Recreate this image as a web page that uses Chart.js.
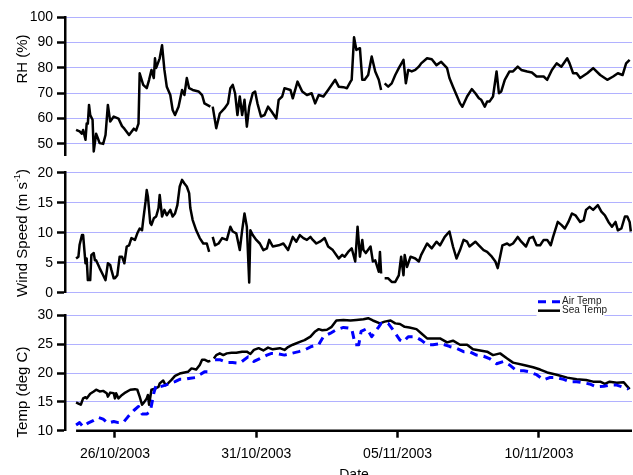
<!DOCTYPE html>
<html>
<head>
<meta charset="utf-8">
<script src="https://cdn.jsdelivr.net/npm/chart.js@4.4.0/dist/chart.umd.min.js"></script>
<style>
    html, body { margin: 0; padding: 0; background: #fff; overflow: hidden; width: 633px; height: 475px; }
    canvas { position: absolute; left: 0; }
</style>
</head>
<body>
<canvas id="rh-chart" width="633" height="175" style="top:0px"></canvas>
<canvas id="wind-chart" width="633" height="165" style="top:150px"></canvas>
<canvas id="temp-chart" width="633" height="195" style="top:290px"></canvas>
<script>
// time is in hours since 26/10/2003 00:00
const xMin = -42.4;
const xMax = 439;
const xTickHours = [0, 120, 240, 360];
const xTickLabels = ['26/10/2003', '31/10/2003', '05/11/2003', '10/11/2003'];

const rhTicks = [50, 60, 70, 80, 90, 100];
const windTicks = [0, 5, 10, 15, 20];
const tempTicks = [10, 15, 20, 25, 30];

const rhHours = [-33, -30, -28, -27, -25, -24, -23, -22, -21, -19,
    -18, -16, -14, -13, -10, -8, -6, -4, -1, 3,
    6, 8, 12, 16, 18, 20, 21, 24, 27, 29,
    31, 33, 34, 35, 38, 40, 42, 44, 47, 49,
    51, 54, 57, 59, 61, 63, 66, 71, 74, 76,
    81, 82, 83, 86, 89, 93, 96, 98, 100, 102,
    104, 106, 108, 110, 112, 114, 117, 119, 121, 124,
    127, 130, 133, 137, 139, 142, 144, 149, 151, 155,
    159, 163, 167, 170, 173, 177, 181, 187, 190, 194,
    197, 200, 201, 203, 205, 208, 210, 212, 215, 218,
    221, 224, 226, 228, 229, 232, 235, 238, 241, 245,
    247, 249, 252, 255, 258, 260, 265, 269, 273, 277,
    282, 284, 287, 290, 293, 295, 299, 303, 306, 309,
    311, 314, 316, 318, 321, 324, 326, 328, 331, 335,
    338, 342, 345, 350, 354, 358, 364, 367, 371, 375,
    379, 384, 386, 389, 392, 395, 401, 406, 412, 418,
    423, 427, 431, 434, 437];
const rhValues = [55.5, 54.9, 54, 55.5, 51.6, 58, 58, 65.4, 61.4, 59.5,
    47, 54, 51.6, 50.3, 50, 53.5, 65.4, 58.8, 60.8, 60,
    57, 56, 53.5, 56, 55.3, 58, 77.9, 73.3, 72, 75.3,
    79.2, 76, 83.8, 80, 83.8, 89, 79.2, 72.6, 69.3, 63.4,
    61.4, 64.7, 71.3, 69.3, 76, 72, 71.3, 70.7, 69.3, 66,
    64.7, null, 64.7, 56.2, 62, 64, 66, 72, 73.3, 70,
    61.4, 68.7, 61.4, 67.4, 56.8, 64.7, 70, 70.7, 66, 60.8,
    61.4, 64.7, 62.8, 60, 67.4, 68.7, 72, 71.3, 68, 74.6,
    70.7, 69.3, 70, 66, 69.3, 68.7, 71.3, 75.3, 72.6, 72.4,
    72, 74.6, 75.3, 92.1, 87.1, 87.8, 75.3, 75.3, 77.2, 84.5,
    78.6, 75.3, 71.3, null, 73.9, 72.6, 73.9, 77.2, 79.9, 83.2,
    73.9, 79.2, 78.6, 79.2, 80.5, 81.8, 83.8, 83.4, 81.1, 82.4,
    79.9, 76, 72.6, 69.3, 66, 64.7, 68.7, 71.6, 70, 68,
    67.4, 64.7, 66.7, 66.7, 68.7, 78.6, 70, 70.7, 75.3, 78.6,
    78.6, 80.5, 79.2, 78.6, 78.2, 76.6, 76.6, 75.3, 79.2, 81.8,
    80.5, 83.8, 81.8, 77.9, 77.9, 76, 77.9, 79.9, 77.2, 75.3,
    76.6, 77.9, 77.2, 81.8, 83.2];

const windHours = [-33, -31, -30, -28, -27, -25, -24, -23, -21, -20,
    -18, -17, -16, -13, -10, -8, -6, -4, -3, -1,
    0, 2, 4, 6, 8, 10, 12, 14, 17, 19,
    21, 23, 24, 26, 27, 28, 30, 31, 33, 35,
    37, 38, 40, 42, 44, 47, 49, 51, 53, 55,
    57, 59, 61, 63, 64, 66, 69, 72, 75, 78,
    80, 82, 83, 85, 88, 91, 95, 98, 100, 103,
    106, 108, 110, 112, 114, 115, 117, 120, 123, 126,
    129, 131, 134, 139, 143, 147, 151, 154, 157, 160,
    163, 166, 168, 171, 174, 176, 178, 181, 185, 190,
    193, 195, 198, 201, 204, 206, 208, 210, 211, 213,
    217, 219, 221, 224, 225, 226, 228, 229, 232, 235,
    238, 241, 243, 245, 246, 248, 251, 255, 258, 260,
    265, 269, 273, 276, 280, 284, 287, 290, 293, 296,
    299, 301, 306, 309, 313, 316, 320, 323, 325, 327,
    329, 333, 335, 338, 342, 345, 349, 352, 355, 358,
    361, 364, 367, 370, 372, 376, 379, 382, 385, 388,
    391, 395, 398, 400, 403, 406, 410, 413, 416, 419,
    422, 425, 427, 430, 433, 435, 437, 438];
const windValues = [5.7, 6, 8, 9.6, 9.6, 4.9, 5.7, 2.1, 2.1, 6.3,
    6.6, 5.4, 5.4, 4.1, 2.9, 2.1, 4.9, 4.6, 3.8, 2.4,
    2.4, 2.9, 6, 6, 4.9, 7.7, 7.9, 9.1, 8.8, 9.9,
    10.7, 10.4, 12.1, 15.2, 17.1, 16, 11.6, 11.3, 12.4, 12.7,
    14.1, 16.3, 12.7, 13.8, 12.9, 13.8, 12.7, 13.2, 14.6, 17.7,
    18.8, 18.2, 17.7, 16.6, 14.1, 12.1, 10.4, 9.1, 8.2, 8.2,
    6.8, null, 9.3, 7.9, 8.2, 9.1, 8.8, 11, 10.2, 9.9,
    7.1, 10.4, 13.2, 11, 1.7, 10.4, 9.6, 8.8, 8.2, 7.1,
    7.4, 8.8, 7.7, 7.9, 8.2, 7.1, 9.3, 8.5, 9.6, 9.1,
    8.8, 9.3, 8.8, 8.2, 8.5, 8.8, 9.1, 7.7, 7.1, 5.7,
    6.3, 6, 6.8, 7.4, 5.2, 11, 6, 8.8, 7.1, 6.6,
    7.7, 5.2, 5.4, 3.5, 6.8, 3.2, null, 2.4, 2.4, 1.8,
    1.8, 2.9, 6, 2.9, 6.3, 4.3, 6, 5.7, 5.2, 6.3,
    8.2, 7.4, 8.5, 7.9, 9.3, 10.2, 7.7, 5.7, 7.1, 8.8,
    8.5, 7.7, 8.5, 7.9, 7.1, 6.8, 6, 5.2, 4.1, 6,
    7.9, 8.2, 7.9, 8.2, 9.3, 8.5, 7.7, 9.1, 9.3, 7.9,
    7.9, 8.8, 8.8, 7.9, 9.3, 11.8, 11.3, 10.7, 11.8, 13.2,
    12.9, 11.8, 12.1, 13.8, 14.3, 13.8, 14.6, 13.5, 12.9, 11.8,
    11, 11.8, 10.4, 10.7, 12.7, 12.7, 11.8, 10.2];

const seaHours = [-33, -31, -29, -27, -25, -24, -21, -18, -16, -13,
    -10, -7, -6, -4, -1, 0, 1, 3, 6, 8,
    13, 17, 19, 21, 23, 25, 27, 28, 29, 31,
    34, 37, 38, 41, 43, 45, 48, 51, 55, 59,
    62, 65, 69, 72, 74, 76, 79, 81, 82, 84,
    86, 89, 92, 95, 99, 103, 108, 112, 115, 118,
    122, 126, 130, 134, 140, 144, 147, 151, 157, 161,
    166, 170, 173, 176, 180, 184, 188, 194, 200, 205,
    211, 215, 219, 225, 229, 234, 238, 242, 246, 250,
    256, 260, 265, 270, 276, 282, 287, 293, 299, 304,
    310, 316, 321, 327, 333, 338, 347, 355, 361, 367,
    375, 384, 392, 400, 406, 412, 416, 420, 426, 432,
    434, 437];
const seaTemp = [14.9, 14.7, 14.5, 15.6, 15.8, 15.6, 16.4, 16.8, 17.1, 16.8,
    16.9, 16.5, 15.9, 16.6, 16.5, 15.6, 16.5, 15.6, 16.2, 16.5,
    17.1, 17.2, 17.1, 15.9, 14.5, 15, 15.6, 16.2, 14.5, 17.1,
    17.3, 17.6, 18.2, 18.7, 17.9, 18.2, 18.8, 19.5, 19.9, 20.1,
    20.2, 20.8, 20.6, 21.4, 22.3, 22.3, 22, 22.1, null, 22.5,
    23.1, 23.4, 23.1, 23.4, 23.5, 23.5, 23.7, 23.7, 23.3, 24,
    24.3, 23.9, 24.4, 24.1, 24.3, 24, 24.5, 24.9, 25.4, 25.7,
    26.3, 27.2, 27.6, 27.4, 27.5, 28, 29.1, 29.2, 29.1, 29.2,
    29.3, 29.5, 29.1, 28.6, 28.9, 29.1, 28.6, 28.5, 28, 27.9,
    27.6, 26.9, 26, 26, 26, 25.3, 25.6, 24.9, 24.9, 24.1,
    23.9, 23.7, 23.1, 23.4, 22.5, 21.8, 21.4, 21, 20.6, 20.1,
    19.7, 19.2, 18.9, 18.8, 18.5, 18.5, 18.1, 18.5, 18.3, 18.4,
    17.9, 17.2];

const airHours = [-33, -30, -27, -23, -18, -14, -10, -6, -1, 3,
    7, 11, 16, 20, 23, 27, 30, 33, 35, 38,
    43, 47, 51, 55, 59, 64, 68, 72, 76, 79,
    82, 85, 89, 95, 100, 106, 113, 118, 123, 129,
    133, 139, 144, 150, 156, 161, 167, 173, 177, 183,
    188, 194, 201, 204, 207, 209, 214, 218, 224, 226,
    232, 236, 242, 245, 249, 255, 260, 265, 270, 277,
    284, 290, 296, 301, 307, 313, 318, 324, 330, 335,
    341, 347, 352, 358, 364, 369, 375, 381, 386, 392,
    398, 403, 409, 415, 420, 426, 432, 436];
const airTemp = [11, 11.4, 10.7, 11.3, 11.8, 12.3, 12, 11.3, 11.6, 11.4,
    11.4, 12.4, 13.5, 14.2, 12.9, 12.9, 13.3, 16.5, 17.9, 17.6,
    17.9, 18.2, 18.5, 18.9, 18.9, 19.1, 19.2, 19.7, 20.2, 20.2,
    null, 22.3, 22.3, 21.8, 21.8, 21.7, 22.8, 22, 22.5, 23.1,
    23.4, 23.3, 23.1, 23.4, 23.7, 24, 24.6, 24.9, 26.3, 26.9,
    27.5, 27.9, 27.7, 24.9, 24.9, 27.2, 27.7, 26.3, 28, 28.6,
    28.6, 27.5, 25.7, 25.4, 26.3, 26.3, 25.7, 24.9, 24.9, 25.1,
    24.6, 24.3, 23.7, 23.7, 23.1, 22.9, 22.5, 21.6, 22, 21.4,
    20.4, 20.4, 20.2, 19.7, 18.8, 19.2, 19.2, 18.9, 18.5, 18.5,
    18.3, 18.1, 17.6, 17.7, 17.9, 17.9, 17.5, 17.2];

const fontFamily = "'Liberation Sans', Arial, sans-serif";
const gridBlue = 'rgba(70, 70, 255, 0.85)';

Chart.defaults.font.family = fontFamily;
Chart.defaults.font.size = 14;
Chart.defaults.color = '#000';

function toPoints(hours, values) {
    return hours.map((h, i) => ({ x: h, y: values[i] }));
}

// rotated y title, parts can be superscript
const yTitlePlugin = {
    id: 'yTitle',
    afterDraw(chart, args, opts) {
        if (!opts.parts) return;
        const ctx = chart.ctx;
        const mainFont = `15px ${fontFamily}`;
        const supFont = `9px ${fontFamily}`;
        ctx.save();
        let total = 0;
        opts.parts.forEach(p => {
            ctx.font = p.sup ? supFont : mainFont;
            total += ctx.measureText(p.text).width;
        });
        ctx.translate(opts.x, opts.y);
        ctx.rotate(-Math.PI / 2);
        ctx.textBaseline = 'middle';
        ctx.textAlign = 'left';
        ctx.fillStyle = '#000';
        let pos = -total / 2;
        opts.parts.forEach(p => {
            ctx.font = p.sup ? supFont : mainFont;
            ctx.fillText(p.text, pos, p.sup ? -5 : 0);
            pos += ctx.measureText(p.text).width;
        });
        ctx.restore();
    }
};

// x axis line starts at the first sample, plus the "Date" title
const dateAxisPlugin = {
    id: 'dateAxis',
    afterDraw(chart, args, opts) {
        if (!opts.enabled) return;
        const { ctx, chartArea } = chart;
        const x0 = chart.scales.x.getPixelForValue(seaHours[0]);
        ctx.save();
        ctx.strokeStyle = '#000';
        ctx.lineWidth = 2.5;
        ctx.beginPath();
        ctx.moveTo(x0, chartArea.bottom);
        ctx.lineTo(chartArea.right, chartArea.bottom);
        ctx.stroke();
        ctx.font = `14px ${fontFamily}`;
        ctx.fillStyle = '#000';
        ctx.textAlign = 'center';
        ctx.textBaseline = 'alphabetic';
        ctx.fillText('Date', (x0 + chartArea.right) / 2, chartArea.bottom + 48);
        ctx.restore();
    }
};

const tempLegendPlugin = {
    id: 'tempLegend',
    afterDraw(chart, args, opts) {
        if (!opts.enabled) return;
        const ctx = chart.ctx;
        ctx.save();
        ctx.fillStyle = '#fff';
        ctx.fillRect(opts.x - 1.5, opts.y - 6, 68, 21);
        chart.data.datasets.forEach((ds, i) => {
            const y = opts.y + i * 9;
            ctx.strokeStyle = ds.borderColor;
            ctx.lineWidth = ds.borderWidth;
            ctx.setLineDash(ds.borderDash || []);
            ctx.beginPath();
            ctx.moveTo(opts.x, y);
            ctx.lineTo(opts.x + 22, y);
            ctx.stroke();
            ctx.setLineDash([]);
            ctx.fillStyle = '#222';
            ctx.font = `10px ${fontFamily}`;
            ctx.textBaseline = 'middle';
            ctx.fillText(ds.label, opts.x + 24, y);
        });
        ctx.restore();
    }
};

Chart.register(yTitlePlugin, dateAxisPlugin, tempLegendPlugin);

function yAxis(min, max, ticks, hideGridAt) {
    return {
        min: min,
        max: max,
        afterBuildTicks: scale => { scale.ticks = ticks.map(v => ({ value: v })); },
        afterFit: scale => { scale.width = 65; },
        border: { color: '#000', width: 2.5, dash: [1, 1] },
        grid: {
            color: ctx => (ctx.tick && ctx.tick.value === hideGridAt) ? 'rgba(0,0,0,0)' : gridBlue,
            lineWidth: 1,
            tickLength: 8,
            tickColor: '#000',
            tickWidth: 2.5
        },
        ticks: { padding: 4, color: '#000', font: { size: 14 } }
    };
}

function hiddenX() {
    return { type: 'linear', min: xMin, max: xMax, display: false };
}

function baseOptions(padding, scales, plugins) {
    return {
        responsive: false,
        animation: false,
        devicePixelRatio: 1,
        layout: { padding: padding },
        elements: { point: { radius: 0 }, line: { tension: 0, borderJoinStyle: 'round' } },
        scales: scales,
        plugins: Object.assign({ legend: { display: false }, tooltip: { enabled: false } }, plugins)
    };
}

function initRhChart() {
    const canvas = document.getElementById('rh-chart');
    return new Chart(canvas.getContext('2d'), {
        type: 'line',
        data: {
            datasets: [{
                label: 'RH',
                data: toPoints(rhHours, rhValues),
                borderColor: '#000',
                borderWidth: 2.5,
                spanGaps: false
            }]
        },
        options: baseOptions(
            { top: 17.3, bottom: 20, left: 0, right: 1 },
            { x: hiddenX(), y: yAxis(45.6, 100, rhTicks, null) },
            { yTitle: { parts: [{ text: 'RH (%)' }], x: 23, y: 59 } }
        )
    });
}

function initWindChart() {
    const canvas = document.getElementById('wind-chart');
    return new Chart(canvas.getContext('2d'), {
        type: 'line',
        data: {
            datasets: [{
                label: 'Wind Speed',
                data: toPoints(windHours, windValues),
                borderColor: '#000',
                borderWidth: 2.5,
                spanGaps: false
            }]
        },
        options: baseOptions(
            { top: 22.7, bottom: 22.3, left: 0, right: 1 },
            { x: hiddenX(), y: yAxis(0, 20, windTicks, null) },
            { yTitle: { parts: [{ text: 'Wind Speed (m s' }, { text: '-1', sup: true }, { text: ')' }], x: 23, y: 83 } }
        )
    });
}

function initTempChart() {
    const canvas = document.getElementById('temp-chart');
    return new Chart(canvas.getContext('2d'), {
        type: 'line',
        data: {
            datasets: [{
                label: 'Air Temp',
                data: toPoints(airHours, airTemp),
                borderColor: '#0000ff',
                borderWidth: 3,
                borderDash: [8, 6],
                spanGaps: false
            }, {
                label: 'Sea Temp',
                data: toPoints(seaHours, seaTemp),
                borderColor: '#000',
                borderWidth: 2.5,
                spanGaps: false
            }]
        },
        options: baseOptions(
            { top: 25.3, bottom: 0, left: 0, right: 1 },
            {
                x: {
                    type: 'linear',
                    min: xMin,
                    max: xMax,
                    afterBuildTicks: scale => { scale.ticks = xTickHours.map(v => ({ value: v })); },
                    afterFit: scale => { scale.height = 54.3; },
                    border: { display: false },
                    grid: { drawOnChartArea: false, color: '#000', tickLength: 7, tickColor: '#000', tickWidth: 2.5 },
                    ticks: {
                        autoSkip: false,
                        maxRotation: 0,
                        padding: 8,
                        font: { size: 14 },
                        callback: (value, index) => xTickLabels[index]
                    }
                },
                y: yAxis(10, 30, tempTicks, 10)
            },
            {
                yTitle: { parts: [{ text: 'Temp (deg C)' }], x: 23, y: 102 },
                dateAxis: { enabled: true },
                tempLegend: { enabled: true, x: 538, y: 11.7 }
            }
        )
    });
}

document.addEventListener('DOMContentLoaded', () => {
    initRhChart();
    initWindChart();
    initTempChart();
});
</script>
</body>
</html>
